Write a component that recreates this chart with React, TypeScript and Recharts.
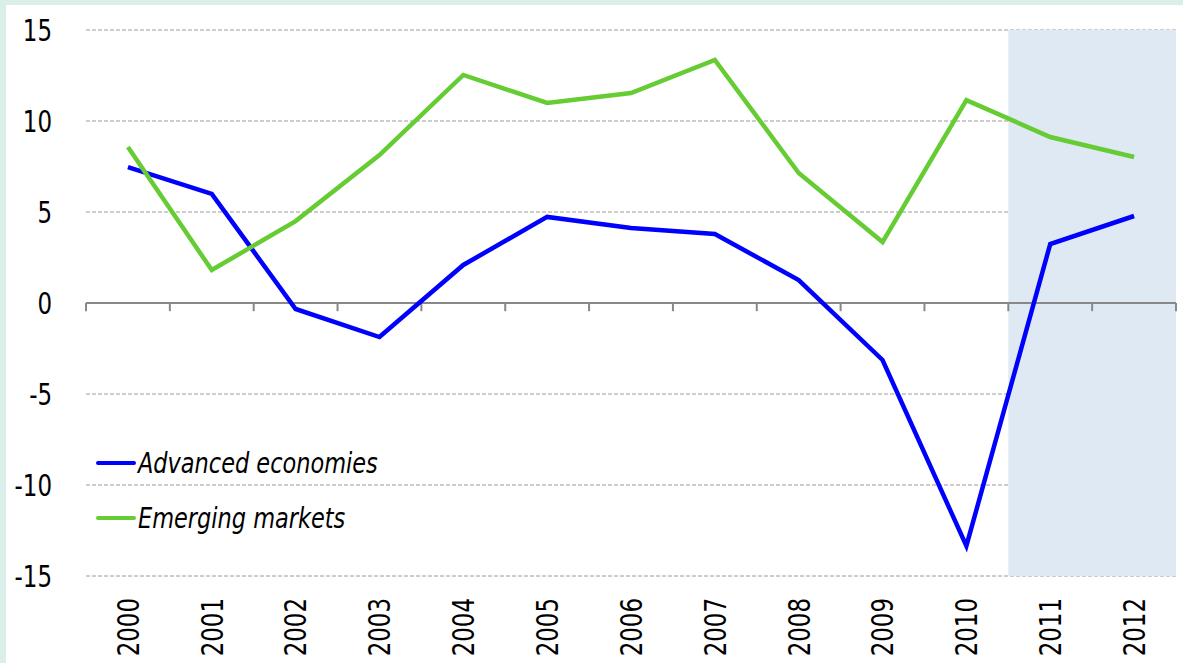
import React from 'react';
import { LineChart, Line, XAxis, YAxis, CartesianGrid, ReferenceArea, ReferenceLine } from 'recharts';

const years = ['2000', '2001', '2002', '2003', '2004', '2005', '2006', '2007', '2008', '2009', '2010', '2011', '2012'];
const advanced = [7.47, 5.99, -0.33, -1.87, 2.09, 4.73, 4.12, 3.79, 1.26, -3.13, -13.35, 3.24, 4.78];
const emerging = [8.57, 1.81, 4.5, 8.13, 12.53, 10.99, 11.54, 13.35, 7.14, 3.35, 11.15, 9.12, 8.02];
const yTicks = [-15, -10, -5, 0, 5, 10, 15];
const seriesNames = ['Advanced economies', 'Emerging markets'];
const seriesColors = ['#0000ff', '#66cc33'];

const data = years.map((y, i) => ({ idx: i, year: y, advanced: advanced[i], emerging: emerging[i] }));
const boundaries = years.map((_, i) => i - 0.5).concat([years.length - 0.5]);

const FONT = "'DejaVu Sans Condensed', 'DejaVu Sans', sans-serif";

const YearTick = (props: any) => {
    const { x, y, payload } = props;
    return (
        <text
            x={0}
            y={0}
            transform={`translate(${x},${y + 14}) rotate(-90) scale(0.85,1)`}
            textAnchor="end"
            dy="0.36em"
            fill="#000"
            fontSize={30}
            fontFamily={FONT}
        >
            {years[payload.value]}
        </text>
    );
};

const ValueTick = (props: any) => {
    const { x, y, payload } = props;
    return (
        <text
            x={0}
            y={0}
            transform={`translate(${x - 26},${y}) scale(0.85,1)`}
            textAnchor="end"
            dy="0.36em"
            fill="#000"
            fontSize={30}
            fontFamily={FONT}
        >
            {payload.value}
        </text>
    );
};

const LegendBox = () => (
    <div style={{ position: 'absolute', left: 90, top: 430, fontFamily: FONT, fontStyle: 'italic', fontSize: 29, color: '#000' }}>
        {seriesNames.map((name, i) => (
            <div key={name} style={{ display: 'flex', alignItems: 'center', height: 55 }}>
                <svg width={42} height={10}>
                    <line x1={2} y1={5} x2={38} y2={5} stroke={seriesColors[i]} strokeWidth={4} strokeLinecap="round" />
                </svg>
                <span style={{ display: 'inline-block', transform: 'scaleX(0.86)', transformOrigin: 'left center', whiteSpace: 'nowrap' }}>{name}</span>
            </div>
        ))}
    </div>
);

export default function App() {
    return (
        <div style={{ position: 'absolute', left: 0, top: 0, width: 1183, height: 663, background: '#d9efe7', overflow: 'hidden' }}>
            <div style={{ position: 'absolute', left: 6, top: 5, width: 1177, height: 658, background: '#fff' }}>
                <LineChart width={1177} height={658} data={data} margin={{ top: 25, right: 7, bottom: 0, left: 0 }}>
                    <ReferenceArea x1={10.5} x2={12.5} y1={-15} y2={15} fill="#dfe9f3" fillOpacity={1} stroke="none" />
                    <CartesianGrid vertical={false} stroke="#9a9a9a" strokeDasharray="4 2" />
                    <XAxis
                        dataKey="idx"
                        type="number"
                        domain={[-0.5, 12.5]}
                        ticks={data.map((d) => d.idx)}
                        interval={0}
                        axisLine={false}
                        tickLine={false}
                        height={87}
                        tick={<YearTick />}
                    />
                    <YAxis
                        domain={[-15, 15]}
                        ticks={yTicks}
                        axisLine={false}
                        tickLine={false}
                        width={80}
                        tick={<ValueTick />}
                    />
                    <ReferenceLine y={0} stroke="#888" strokeWidth={2} />
                    {boundaries.map((b) => (
                        <ReferenceLine key={b} segment={[{ x: b, y: 0 }, { x: b, y: -0.45 }]} stroke="#888" strokeWidth={2} />
                    ))}
                    <Line dataKey="advanced" stroke={seriesColors[0]} strokeWidth={4.5} dot={false} isAnimationActive={false} />
                    <Line dataKey="emerging" stroke={seriesColors[1]} strokeWidth={4.5} dot={false} isAnimationActive={false} />
                </LineChart>
                <LegendBox />
            </div>
        </div>
    );
}
